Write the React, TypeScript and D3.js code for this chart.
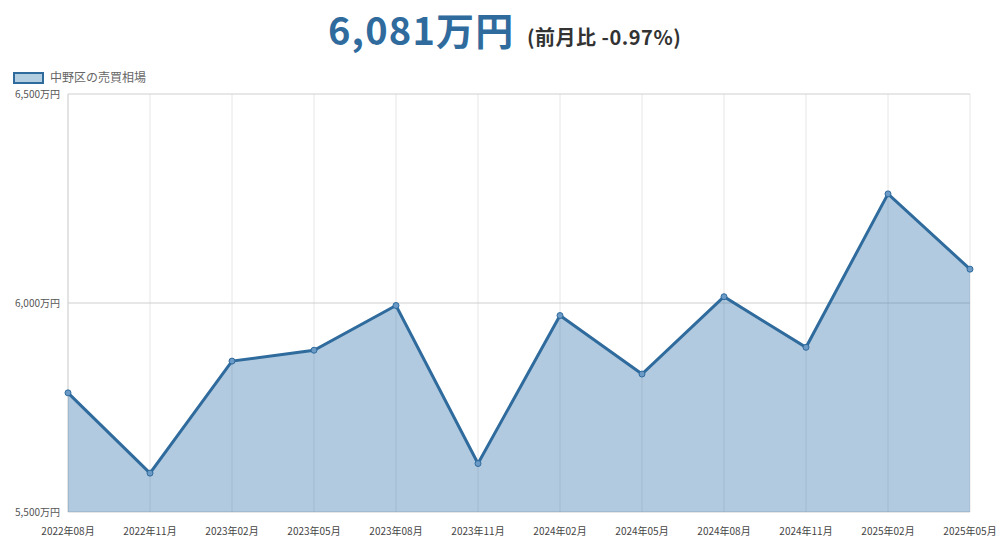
import React, { useEffect, useRef } from 'react';
import * as d3 from 'd3';

const months = [
  '2022年08月', '2022年11月', '2023年02月', '2023年05月', '2023年08月', '2023年11月',
  '2024年02月', '2024年05月', '2024年08月', '2024年11月', '2025年02月', '2025年05月',
];
const prices = [5785, 5593, 5861, 5887, 5994, 5616, 5970, 5830, 6015, 5894, 6261, 6081];
const yTicks = [5500, 6000, 6500];
const seriesName = '中野区の売買相場';
const headline = '6,081万円';
const changeText = '(前月比 -0.97%)';

const App: React.FC = () => {
  const svgRef = useRef<SVGSVGElement | null>(null);

  useEffect(() => {
    if (!svgRef.current) return;

    const width = 1000;
    const height = 542;
    const margin = { top: 94, right: 30, bottom: 30, left: 68 };
    const font = '"Noto Sans CJK JP", "Noto Sans", sans-serif';

    const svg = d3.select(svgRef.current).attr('width', width).attr('height', height);
    svg.selectAll('*').remove();

    const x = d3
      .scalePoint<string>()
      .domain(months)
      .range([margin.left, width - margin.right]);

    const y = d3
      .scaleLinear()
      .domain([5500, 6500])
      .range([height - margin.bottom, margin.top]);

    // title
    svg
      .append('text')
      .attr('x', 328)
      .attr('y', 45)
      .attr('font-family', font)
      .attr('font-size', 38)
      .attr('font-weight', 700)
      .attr('letter-spacing', 1.2)
      .attr('fill', '#2f6b9d')
      .text(headline);
    svg
      .append('text')
      .attr('x', 527)
      .attr('y', 45)
      .attr('font-family', font)
      .attr('font-size', 20)
      .attr('font-weight', 700)
      .attr('letter-spacing', 0.5)
      .attr('fill', '#333')
      .text(changeText);

    // legend
    svg
      .append('rect')
      .attr('x', 14)
      .attr('y', 73)
      .attr('width', 29)
      .attr('height', 10)
      .attr('fill', '#b3cde1')
      .attr('stroke', '#2f6b9d')
      .attr('stroke-width', 2);
    svg
      .append('text')
      .attr('x', 50)
      .attr('y', 82)
      .attr('font-family', font)
      .attr('font-size', 12)
      .attr('fill', '#666')
      .text(seriesName);

    // grid
    const grid = svg.append('g');
    grid
      .selectAll('line.v')
      .data(months)
      .enter()
      .append('line')
      .attr('x1', (d) => x(d)!)
      .attr('x2', (d) => x(d)!)
      .attr('y1', margin.top)
      .attr('y2', height - margin.bottom)
      .attr('stroke', (d, i) => (i === 0 ? '#c8c8c8' : '#e6e6e6'))
      .attr('stroke-width', 1);
    grid
      .selectAll('line.h')
      .data(yTicks)
      .enter()
      .append('line')
      .attr('x1', margin.left)
      .attr('x2', width - margin.right)
      .attr('y1', (d) => y(d))
      .attr('y2', (d) => y(d))
      .attr('stroke', '#cfcfcf')
      .attr('stroke-width', 1);

    // area + line
    const area = d3
      .area<number>()
      .x((d, i) => x(months[i])!)
      .y0(y(5500))
      .y1((d) => y(d));
    const line = d3
      .line<number>()
      .x((d, i) => x(months[i])!)
      .y((d) => y(d));

    svg
      .append('path')
      .datum(prices)
      .attr('d', area)
      .attr('fill', 'rgba(47, 112, 168, 0.37)');
    svg
      .append('path')
      .datum(prices)
      .attr('d', line)
      .attr('fill', 'none')
      .attr('stroke', '#2f6b9d')
      .attr('stroke-width', 3);

    svg
      .selectAll('circle')
      .data(prices)
      .enter()
      .append('circle')
      .attr('cx', (d, i) => x(months[i])!)
      .attr('cy', (d) => y(d))
      .attr('r', 3)
      .attr('fill', '#6b9ac6')
      .attr('stroke', '#2f6b9d')
      .attr('stroke-width', 1);

    // y labels
    svg
      .selectAll('text.ylab')
      .data(yTicks)
      .enter()
      .append('text')
      .attr('class', 'ylab')
      .attr('x', margin.left - 8)
      .attr('y', (d) => y(d) + 4)
      .attr('text-anchor', 'end')
      .attr('font-family', font)
      .attr('font-size', 10)
      .attr('fill', '#555')
      .text((d) => `${d3.format(',')(d)}万円`);

    // x labels
    svg
      .selectAll('text.xlab')
      .data(months)
      .enter()
      .append('text')
      .attr('class', 'xlab')
      .attr('x', (d) => x(d)!)
      .attr('y', height - margin.bottom + 23)
      .attr('text-anchor', 'middle')
      .attr('font-family', font)
      .attr('font-size', 10)
      .attr('fill', '#444')
      .text((d) => d);
  }, []);

  return (
    <div style={{ position: 'absolute', left: 0, top: 0 }}>
      <svg ref={svgRef} style={{ display: 'block' }}></svg>
    </div>
  );
};

export default App;
